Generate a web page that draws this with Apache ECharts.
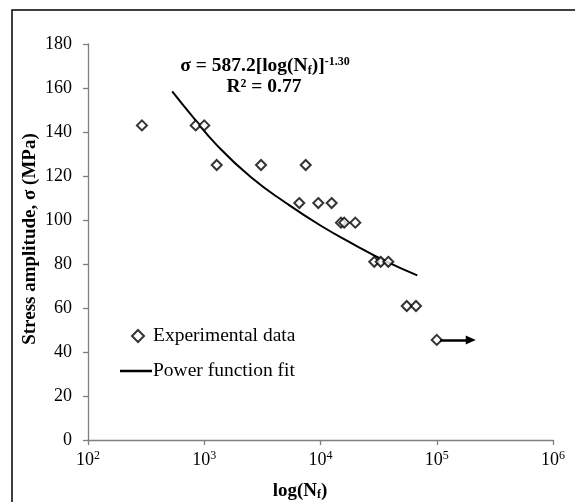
<!DOCTYPE html>
<html>
<head>
<meta charset="utf-8">
<script src="https://cdn.jsdelivr.net/npm/echarts@6/dist/echarts.min.js"></script>
<style>
  html, body { margin: 0; padding: 0; background: #fff; }
  #chart { width: 575px; height: 502px; }
</style>
</head>
<body>
<div id="chart"></div>
<script>
// experimental points
const cycles = [291, 844, 1000, 1280, 3080, 7460, 6570, 9570, 12470, 15000, 16000, 19920, 29000, 32960, 38300, 55200, 66300, 100000]
const stress = [143, 143, 143, 125, 125, 125, 107.7, 107.7, 107.7, 98.8, 98.8, 98.8, 81, 81, 81, 60.9, 60.9, 45.5]

// fitted curve
const fitCycles = [530, 794, 1259, 2512, 5130, 10000, 19950, 35480, 68000]
const fitStress = [158.5, 147, 134.5, 119.5, 107.5, 97.5, 88.5, 81.5, 74.8]

// run-out arrow on the last specimen
const runoutCycles = [107000, 196000]
const runoutStress = 45.5

const serif = 'Liberation Serif'

const chart = echarts.init(document.getElementById('chart'))

chart.setOption({
  backgroundColor: '#fff',
  animation: false,
  textStyle: { fontFamily: serif },
  grid: { left: 88, right: 22, top: 44, bottom: 62 },
  legend: [
    {
      orient: 'vertical',
      left: 126,
      top: 321,
      itemWidth: 12,
      itemHeight: 12,
      data: [{ name: 'Experimental data', icon: 'diamond' }],
      textStyle: { fontFamily: serif, fontSize: 19.5, color: '#000', padding: [0, 0, 0, 4] }
    },
    {
      orient: 'vertical',
      left: 115,
      top: 356,
      itemWidth: 32,
      itemHeight: 2.5,
      data: [{ name: 'Power function fit', icon: 'rect' }],
      textStyle: { fontFamily: serif, fontSize: 19.5, color: '#000', padding: [0, 0, 0, -4] }
    }
  ],
  xAxis: {
    type: 'log',
    logBase: 10,
    min: 100,
    max: 1000000,
    axisLine: { lineStyle: { color: '#7f7f7f', width: 1.3 } },
    axisTick: { length: 5, lineStyle: { color: '#7f7f7f', width: 1.3 } },
    splitLine: { show: false },
    minorTick: { show: false },
    axisLabel: {
      margin: 10,
      color: '#000',
      fontFamily: serif,
      fontSize: 18,
      formatter: v => '10{sup|' + Math.round(Math.log10(v)) + '}',
      rich: {
        sup: { fontFamily: serif, fontSize: 12, verticalAlign: 'top', padding: [0, 0, 8, 0], color: '#000' }
      }
    }
  },
  yAxis: {
    type: 'value',
    min: 0,
    max: 180,
    interval: 20,
    axisLine: { show: true, lineStyle: { color: '#7f7f7f', width: 1.3 } },
    axisTick: { show: true, length: 5, lineStyle: { color: '#7f7f7f', width: 1.3 } },
    splitLine: { show: false },
    axisLabel: { margin: 16, color: '#000', fontFamily: serif, fontSize: 18 }
  },
  graphic: [
    {
      type: 'rect',
      shape: { x: 12, y: 10, width: 700, height: 700 },
      style: { fill: 'none', stroke: '#000', lineWidth: 1.5 },
      silent: true
    },
    {
      type: 'text',
      x: 30,
      y: 239,
      rotation: Math.PI / 2,
      style: {
        text: 'Stress amplitude, σ (MPa)',
        fontFamily: serif,
        fontWeight: 'bold',
        fontSize: 19,
        fill: '#000',
        align: 'center',
        verticalAlign: 'middle'
      }
    },
    {
      type: 'text',
      x: 300,
      y: 491,
      style: {
        text: 'log(N{sub|f})',
        fontFamily: serif,
        fontWeight: 'bold',
        fontSize: 19,
        fill: '#000',
        align: 'center',
        verticalAlign: 'middle',
        rich: {
          sub: { fontFamily: serif, fontWeight: 'bold', fontSize: 12, verticalAlign: 'bottom', padding: [7, 0, 0, 0] }
        }
      }
    },
    {
      type: 'text',
      x: 265,
      y: 66,
      style: {
        text: 'σ = 587.2[log(N{sub|f})]{sup|-1.30}',
        fontFamily: serif,
        fontWeight: 'bold',
        fontSize: 19.5,
        fill: '#000',
        align: 'center',
        verticalAlign: 'middle',
        rich: {
          sub: { fontFamily: serif, fontWeight: 'bold', fontSize: 12, verticalAlign: 'bottom', padding: [7, 0, 0, 0] },
          sup: { fontFamily: serif, fontWeight: 'bold', fontSize: 12, verticalAlign: 'top', padding: [0, 0, 9, 0] }
        }
      }
    },
    {
      type: 'text',
      x: 264,
      y: 87,
      style: {
        text: 'R² = 0.77',
        fontFamily: serif,
        fontWeight: 'bold',
        fontSize: 19.5,
        fill: '#000',
        align: 'center',
        verticalAlign: 'middle'
      }
    }
  ],
  series: [
    {
      name: 'Power function fit',
      type: 'line',
      smooth: true,
      symbol: 'none',
      lineStyle: { color: '#000', width: 2 },
      itemStyle: { color: '#000' },
      data: fitCycles.map((n, i) => [n, fitStress[i]]),
      z: 2
    },
    {
      name: 'Experimental data',
      type: 'scatter',
      symbol: 'diamond',
      symbolSize: 10,
      itemStyle: { color: '#fff', borderColor: '#000', borderWidth: 2 },
      data: cycles.map((n, i) => [n, stress[i]]),
      markLine: {
        silent: true,
        symbol: ['none', 'triangle'],
        symbolSize: [9, 10],
        label: { show: false },
        lineStyle: { color: '#000', width: 2.5, type: 'solid' },
        data: [[
          { coord: [runoutCycles[0], runoutStress] },
          { coord: [runoutCycles[1], runoutStress] }
        ]]
      },
      z: 3
    }
  ]
})
</script>
</body>
</html>
